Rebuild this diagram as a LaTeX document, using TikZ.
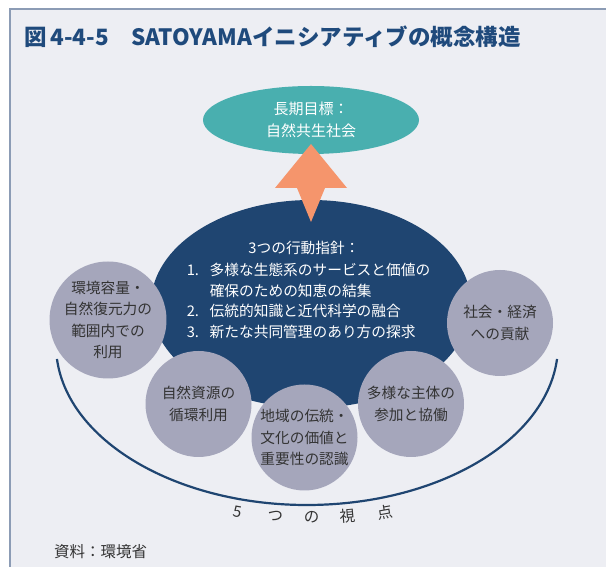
\documentclass[tikz,border=0pt]{standalone}
\usepackage{fontspec}
\setmainfont{Noto Sans CJK JP}
\usepackage{tikz}
\usetikzlibrary{shapes.geometric}
\definecolor{framebg}{HTML}{EDEEF3}
\definecolor{frameline}{HTML}{8C9CB5}
\definecolor{titleblue}{HTML}{1F4A7C}
\definecolor{goalteal}{HTML}{49AFAF}
\definecolor{guideblue}{HTML}{1F4571}
\definecolor{arroworange}{HTML}{F5956C}
\definecolor{viewgray}{HTML}{A5A6BB}
\definecolor{textgray}{HTML}{333333}
\tikzstyle{goal} = [ellipse, fill=goalteal, text=white, minimum width=216pt, minimum height=68pt, inner sep=0pt, align=center, font=\fontsize{15}{21.7}\selectfont]
\tikzstyle{guide} = [ellipse, fill=guideblue, minimum width=320pt, minimum height=208pt, inner sep=0pt]
\tikzstyle{guidetext} = [text=white, inner sep=0pt, font=\fontsize{14.7}{20.5}\selectfont]
\tikzstyle{viewpoint} = [circle, fill=viewgray, text=textgray, minimum size=106pt, inner sep=0pt, align=center, font=\fontsize{14.7}{21.3}\selectfont]
\tikzstyle{bowl} = [draw=guideblue, line width=2.2pt]
\tikzstyle{bowlchar} = [text=textgray, inner sep=0pt, font=\fontsize{15.5}{17}\selectfont]

\begin{document}
\begin{tikzpicture}[x=1pt, y=1pt]
    % Frame
    \useasboundingbox (0,0) rectangle (606,567);
    \fill[white] (0,0) rectangle (606,567);
    \fill[framebg] (10,0) rectangle (606,558);
    \draw[frameline, line width=1.5pt] (10,0) -- (10,558) -- (606,558);

    % Title
    \node[anchor=west, text=titleblue, inner sep=0pt, font=\fontsize{22.5}{25}\selectfont\bfseries] (title) at (24,530.5) {図\,4-4-5　SATOYAMAイニシアティブの概念構造};

    % Bowl
    \draw[bowl] (307,222) ++(185:251 and 160) arc[start angle=185, end angle=355, x radius=251, y radius=160];

    % Goal and guidelines
    \node[guide] (guide) at (311,263) {};
    \node[goal] (goal) at (311,447) {長期目標：\\自然共生社会};

    % Arrow
    \coordinate (tip) at (311,423);
    \fill[arroworange] (tip) -- ++(36,-44) -- ++(-22,0) -- ++(-14,-34) -- ++(-14,34) -- ++(-22,0) -- cycle;

    % Action guidelines
    \node[guidetext] (head) at (304,319) {3つの行動指針：};
    \node[guidetext, align=left] (list) at (308.5,266) {\makebox[23pt][l]{1.}多様な生態系のサービスと価値の\\\hspace*{23pt}確保のための知恵の結集\\\makebox[23pt][l]{2.}伝統的知識と近代科学の融合\\\makebox[23pt][l]{3.}新たな共同管理のあり方の探求};

    % Five viewpoints
    \node[viewpoint] (capacity) at (108,247) {環境容量・\\自然復元力の\\範囲内での\\利用};
    \node[viewpoint] (contribution) at (500,244) {社会・経済\\への貢献};
    \node[viewpoint] (resources) at (198.5,163) {自然資源の\\循環利用};
    \node[viewpoint] (culture) at (304.5,129.5) {地域の伝統・\\文化の価値と\\重要性の認識};
    \node[viewpoint] (actors) at (411,163) {多様な主体の\\参加と協働};

    % Bowl label
    \foreach \ch/\x/\y/\r [count=\i] in {5/237.7/55.3/-10, つ/276/51/-5, の/311.7/50/0, 視/348/51/5, 点/385/54.3/10}
        \node[bowlchar, rotate=\r] (view\i) at (\x,\y) {\ch};

    % Source
    \node[anchor=west, text=textgray, inner sep=0pt, font=\fontsize{15.5}{18}\selectfont] (source) at (54,15) {資料：環境省};
\end{tikzpicture}
\end{document}
